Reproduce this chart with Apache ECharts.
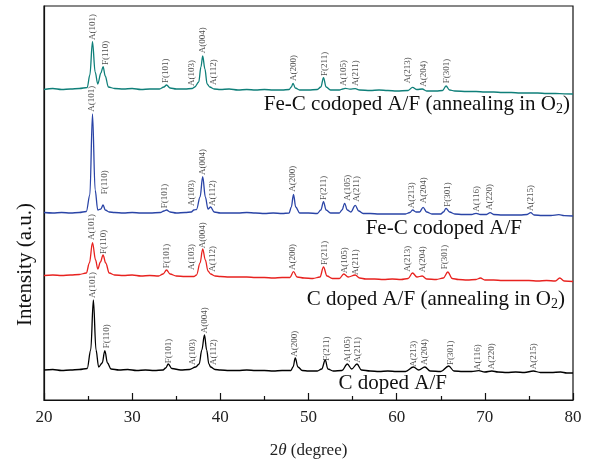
<!DOCTYPE html>
<html><head><meta charset="utf-8">
<script src="https://cdn.jsdelivr.net/npm/echarts@6/dist/echarts.min.js"></script>
<style>html,body{margin:0;padding:0;background:#fff}#c{width:590px;height:464px}</style>
</head><body><div id="c"></div>
<script>
// 2θ (degree) vs intensity (a.u., offset stacked patterns)
const xTicks = [20, 30, 40, 50, 60, 70, 80];

const tealData = [[20,310.5],[21,311.5],[22,310.5],[23,311],[24,311.5],[24.9,312.5],[25.2,325],[25.5,358.3],[25.8,328],[26.1,316],[26.45,327],[26.7,333.3],[26.95,324],[27.3,313],[28,311.5],[29,311],[30,311.5],[31,310.5],[32,311],[33.1,311],[33.6,313],[33.9,315],[34.3,312],[35,311],[36,311],[36.8,311.5],[37.1,313],[37.55,318],[37.8,333],[38.0,344],[38.25,331],[38.5,316],[38.8,313],[39.3,311],[40,310.5],[41,311],[42,310],[43,310.5],[44,310],[45,310.5],[46,310],[47,310],[47.8,310.5],[48.05,313],[48.25,316.7],[48.5,312],[49,310],[50,310],[51,310.5],[51.4,313],[51.7,322.3],[52.0,313],[52.5,310],[53.5,310],[53.9,311],[54.2,311.7],[54.7,310.8],[55.3,311.3],[55.8,310],[57,309.5],[58,310],[59,309.5],[60,309],[61.3,309.5],[61.8,312.7],[62.3,310.5],[62.9,311],[63.4,309],[64.5,309],[65.2,309.5],[65.6,314],[66.0,310],[66.6,309],[68,308.5],[69,308.5],[70,308],[71,308],[72,307.5],[73,307.5],[74,307],[75,307],[76,307],[77,306.5],[78,306.5],[79,306.2],[80,306]];

const blueData = [[20,187.5],[21,187],[22,187.5],[23,187],[24,187.5],[24.8,188.5],[25.2,205],[25.5,286],[25.8,210],[26.1,190],[26.45,191],[26.7,195],[26.95,190],[27.4,188],[28,187.5],[29,187],[30,187.5],[31,187],[32,187],[33.2,187.5],[33.6,189],[33.9,190],[34.3,188],[35,187],[36,187.5],[36.7,188],[37.0,190],[37.3,190.5],[37.7,203],[38.0,223.3],[38.3,203],[38.6,191],[38.9,193],[39.3,188],[40,187],[41,187],[42,187],[43,187.5],[44,187],[45,186.5],[46,187],[47,186.5],[47.8,187],[48.05,193],[48.3,205.7],[48.55,193],[49,187],[50,187],[51,186.5],[51.4,190],[51.7,198.3],[52.0,190],[52.5,187],[53.5,187],[53.8,190],[54.1,196.7],[54.4,190],[54.8,188],[55.3,194.7],[55.7,189],[56.2,186.5],[57,186.5],[58,186],[59,186],[60,186],[61,186],[61.5,187.5],[61.8,190],[62.2,188],[62.6,188],[63.0,192.7],[63.4,188],[64,186],[65,186],[65.3,188],[65.6,191.7],[66.0,188],[66.6,186],[67.5,185.5],[68.5,185.5],[69.0,186.7],[69.5,185.5],[70.2,185.5],[70.6,187.3],[71.0,185.5],[72,185],[73,185],[74,185],[74.8,185.5],[75.2,187.3],[75.6,185],[76.5,184.5],[77.5,184.5],[78.4,185.3],[79,184.3],[80,184]];

const redData = [[20,124.5],[21,125],[22,124.5],[23,125],[24,125.5],[24.8,127],[25.15,137],[25.5,157.3],[25.85,140],[26.1,131],[26.4,138],[26.7,145],[27.0,137],[27.4,127],[28,125],[29,124.5],[30,125],[31,124],[32,124.5],[33,124],[33.5,126],[33.9,130],[34.3,126],[35,124],[36,123.5],[37,123.5],[37.3,125],[37.7,137],[38.0,151],[38.3,140],[38.6,129],[38.9,126],[39.4,124],[40,123.5],[41,123],[42,123],[43,123],[44,122.5],[45,122.5],[46,122],[47,122.5],[47.9,122.5],[48.3,128.3],[48.7,123],[49.5,122],[50.5,121.5],[51.3,123],[51.7,133],[52.1,124],[52.7,121.5],[53.5,121.5],[54.0,126],[54.5,123],[55.3,125],[55.8,122],[56.5,121],[57.5,121],[58.5,120.5],[59.5,121],[60.5,120.5],[61.3,121.5],[61.8,127],[62.3,123],[62.9,124],[63.4,121],[64.5,120.5],[65.3,122],[65.8,128],[66.3,121.5],[67,120.5],[68,120],[69,120.5],[69.5,122],[70,120],[71,120],[72,119.5],[73,119.5],[74,119.5],[75,119.5],[76,119],[77,119.5],[78,119],[78.5,122],[79,119],[80,118.5]];

const blackData = [[20,30],[21,30.5],[22,29.5],[23,30],[24,30.5],[24.9,31.5],[25.3,50],[25.6,100],[25.9,50],[26.2,33],[26.6,37],[26.9,49.3],[27.2,37],[27.6,31],[28.5,30],[29.5,30.5],[30.5,29.5],[31.5,30],[32.5,29.5],[33.5,30],[33.8,32],[34.1,36],[34.5,31.5],[35.5,30],[36.5,30.5],[37.2,33],[37.6,36],[37.9,50],[38.2,65],[38.45,50],[38.7,36],[38.9,33],[39.4,30.5],[40,30],[41,29.5],[42,29.5],[43,30],[44,29.5],[45,29.5],[46,29],[47,29.5],[48,29.5],[48.25,33],[48.5,42],[48.8,33],[49.3,29.5],[50,29],[51,29],[51.5,31],[51.9,40],[52.2,31],[52.8,29],[53.8,29.5],[54.4,36],[54.9,31],[55.5,36],[56,30],[57,29],[58,28.5],[59,29],[60,28.5],[61,28.5],[61.9,33],[62.5,30],[63.2,33],[63.8,29],[65,28.5],[65.9,34],[66.5,29],[67.5,28.5],[68.5,28.5],[69.3,29.3],[70,28],[70.8,29],[71.5,28],[72.5,27.5],[73.5,28],[74.5,27.5],[75.5,29],[76.3,27.5],[77.5,27.5],[78.6,28],[79.3,27],[80,27]];

// peak labels: [2θ, label base, text]
const tealPeaks = [[25.49,360,'A(101)'],[27.01,335,'F(110)'],[33.75,317,'F(101)'],[36.78,314,'A(103)'],[37.99,346.7,'A(004)'],[39.24,315,'A(112)'],[48.33,319,'A(200)'],[51.82,324,'F(211)'],[54.01,314,'A(105)'],[55.34,314,'A(211)'],[61.28,316.7,'A(213)'],[63.03,313.3,'A(204)'],[65.65,316.7,'F(301)']];
const bluePeaks = [[25.42,288.3,'A(101)'],[26.93,205.7,'F(110)'],[33.64,191.7,'F(101)'],[36.78,194,'A(103)'],[38.03,225,'A(004)'],[39.13,194,'A(112)'],[48.22,208.3,'A(200)'],[51.67,200,'F(211)'],[54.40,199.3,'A(105)'],[55.45,198.3,'A(211)'],[61.70,191.7,'A(213)'],[63.10,196.7,'A(204)'],[65.76,193.3,'F(301)'],[69.09,188.3,'A(116)'],[70.60,190,'A(220)'],[75.15,189,'A(215)']];
const redPeaks = [[25.42,160,'A(101)'],[26.74,146,'F(110)'],[33.94,131.7,'F(101)'],[36.78,130,'A(103)'],[37.99,151.7,'A(004)'],[39.13,128.3,'A(112)'],[48.22,130,'A(200)'],[51.82,135,'F(211)'],[54.09,126.7,'A(105)'],[55.34,125,'A(211)'],[61.28,128.3,'A(213)'],[62.92,127.7,'A(204)'],[65.49,130.7,'F(301)']];
const blackPeaks = [[25.57,102,'A(101)'],[27.05,51.7,'F(110)'],[34.13,36.7,'F(101)'],[36.90,35,'A(103)'],[38.18,66.7,'A(004)'],[39.24,35,'A(112)'],[48.41,43.3,'A(200)'],[52.05,39.3,'F(211)'],[54.40,37.7,'A(105)'],[55.60,37.3,'A(211)'],[61.97,33.3,'A(213)'],[63.22,35,'A(204)'],[66.14,35,'F(301)'],[69.17,30,'A(116)'],[70.80,30.7,'A(220)'],[75.49,30.7,'A(215)']];

const sampleNames = ['Fe-C codoped A/F (annealing in O{s|2})', 'Fe-C codoped A/F', 'C doped A/F (annealing in O{s|2})', 'C doped A/F'];

const SERIF = '"Liberation Serif","DejaVu Serif",serif';
const chart = echarts.init(document.getElementById('c'));

function curve(data, color) {
  return { type: 'line', data: data, showSymbol: false, symbol: 'none', smooth: 0.35, smoothMonotone: 'x',
    lineStyle: { color: color, width: 1.3 }, silent: true, animation: false, z: 3 };
}
function peakLabels(list) {
  return { type: 'scatter', symbolSize: 0, silent: true, animation: false, z: 4,
    data: list.map(p => [p[0], p[1], p[2]]),
    label: { show: true, formatter: p => p.value[2], position: 'top', distance: 0, rotate: 90,
      align: 'left', verticalAlign: 'middle', fontFamily: SERIF, fontSize: 9, color: '#222' } };
}
const rich = { s: { fontSize: 14, fontFamily: SERIF, color: '#111', padding: [9, 0, 0, 0] } };
function bigText(text, right, top) {
  return { type: 'text', right: right, top: top, z: 10,
    style: { text: text, font: '21px ' + SERIF, fill: '#111', rich: rich } };
}

chart.setOption({
  animation: false,
  grid: { left: 44, right: 17, top: 6, bottom: 64, show: true, borderColor: '#111', borderWidth: 1.2, backgroundColor: 'transparent' },
  xAxis: { type: 'value', min: xTicks[0], max: xTicks[xTicks.length - 1], interval: 10,
    axisLine: { lineStyle: { color: '#111', width: 1.2 } },
    axisTick: { inside: true, length: 7, lineStyle: { color: '#111', width: 1.2 } },
    minorTick: { show: true, splitNumber: 2, length: 4, lineStyle: { color: '#111', width: 1.2 } },
    splitLine: { show: false },
    axisLabel: { margin: 9, fontFamily: SERIF, fontSize: 17, color: '#222' },
    name: '2{i|θ} (degree)', nameLocation: 'middle', nameGap: 42,
    nameTextStyle: { fontFamily: SERIF, fontSize: 17, color: '#222', rich: { i: { fontFamily: SERIF, fontSize: 17, fontStyle: 'italic', color: '#222' } } } },
  yAxis: { type: 'value', min: 0, max: 394, axisLine: { show: true, lineStyle: { color: '#111', width: 1.2 } },
    axisTick: { show: false }, axisLabel: { show: false }, splitLine: { show: false } },
  graphic: [
    { type: 'text', left: 15, top: 203, rotation: Math.PI / 2, z: 10,
      style: { text: 'Intensity (a.u.)', font: '21px ' + SERIF, fill: '#111', textAlign: 'center', textVerticalAlign: 'middle' } },
    bigText(sampleNames[0], 20, 94),
    bigText(sampleNames[1], 68, 218),
    bigText(sampleNames[2], 25, 289),
    bigText(sampleNames[3], 143, 373)
  ],
  series: [
    curve(tealData, '#0f7f79'), curve(blueData, '#2a44a6'), curve(redData, '#e8221f'), curve(blackData, '#000'),
    peakLabels(tealPeaks), peakLabels(bluePeaks), peakLabels(redPeaks), peakLabels(blackPeaks)
  ]
});
</script></body></html>
